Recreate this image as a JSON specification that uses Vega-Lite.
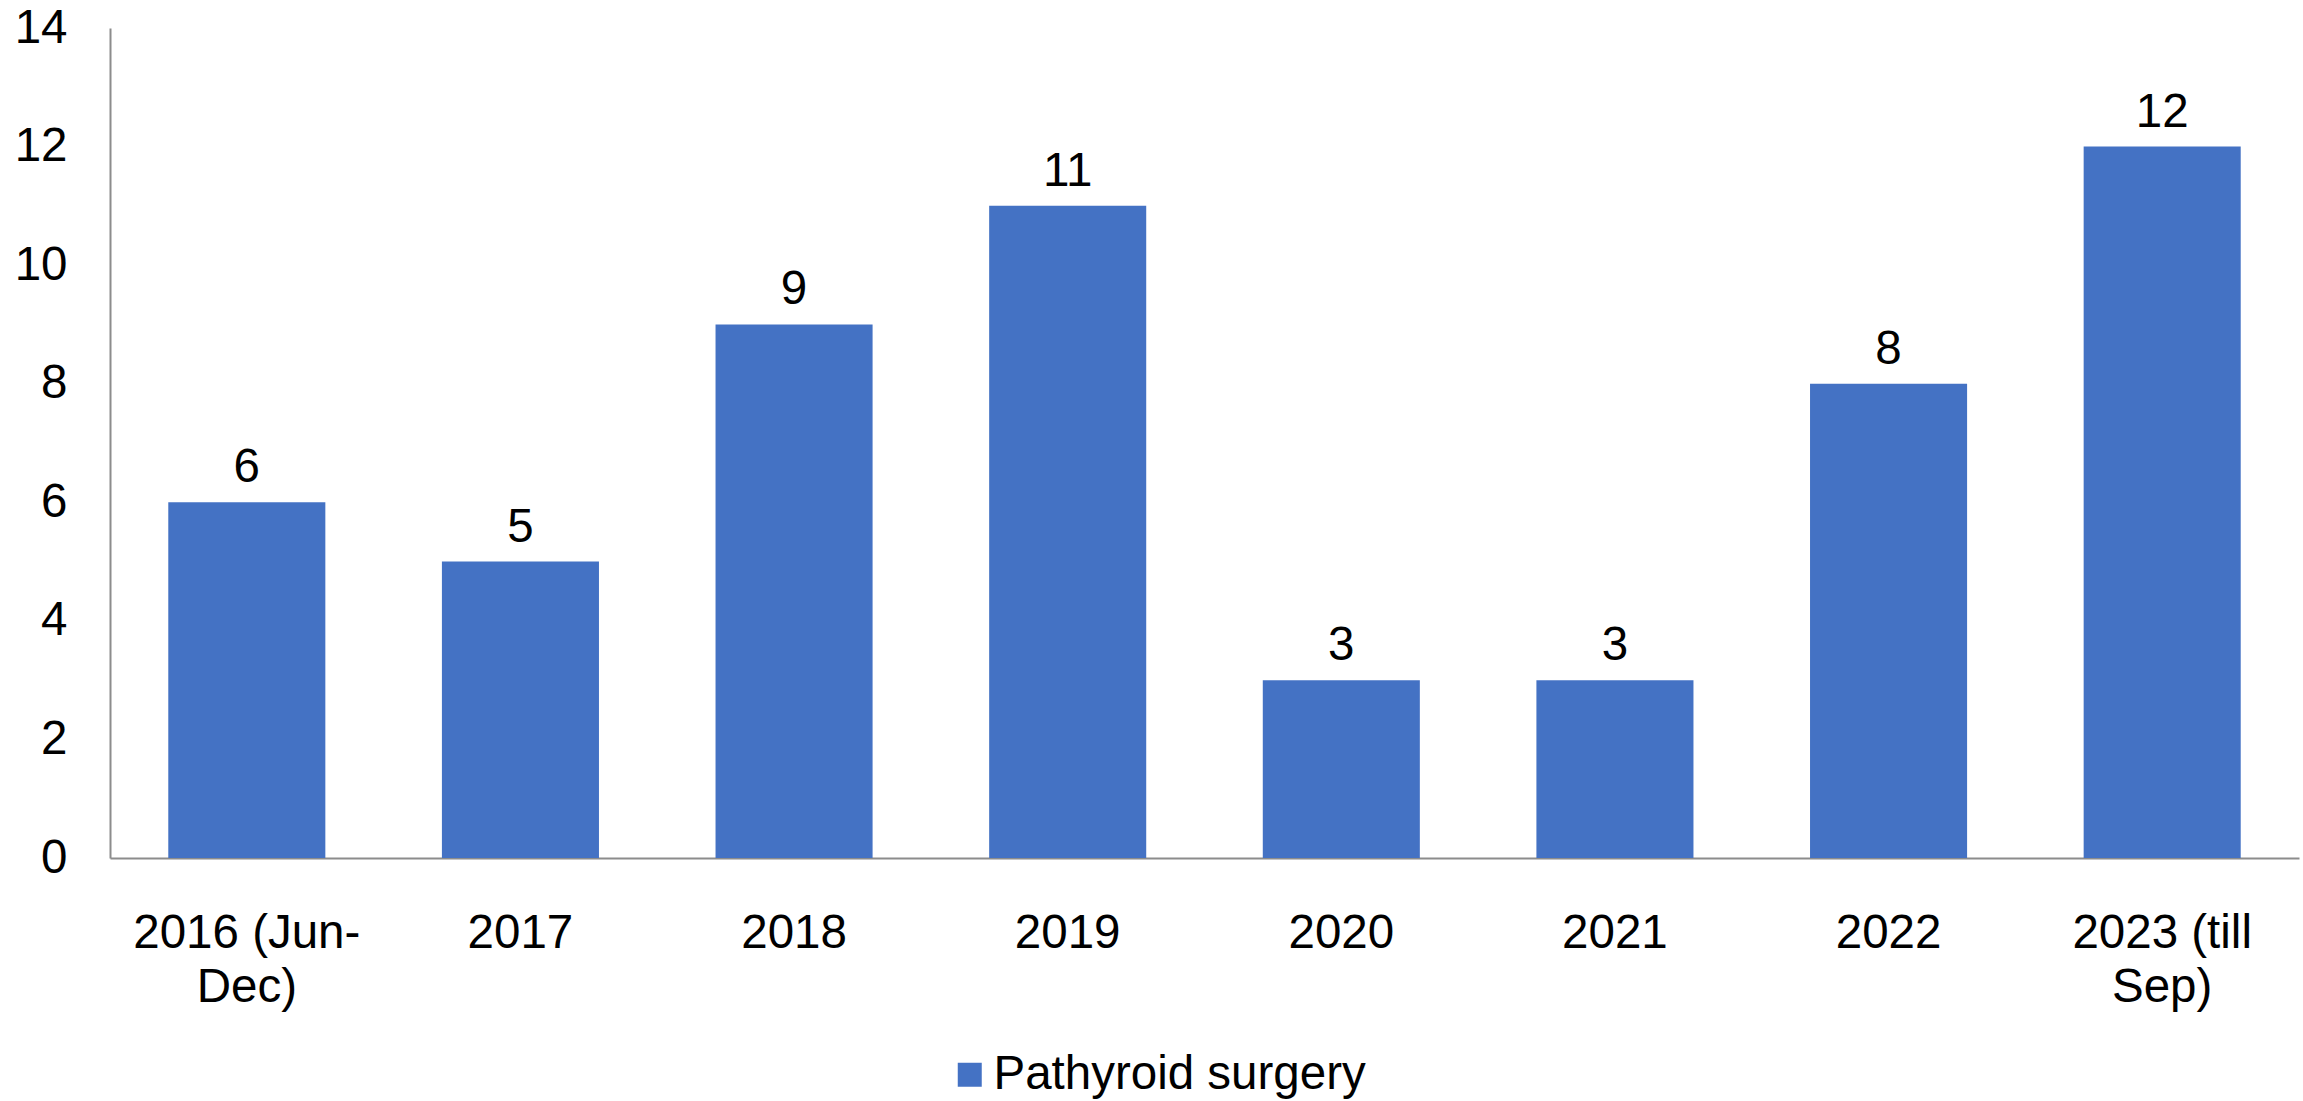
{
  "$schema": "https://vega.github.io/schema/vega-lite/v6.json",
  "width": 2189,
  "height": 830,
  "autosize": {"type": "none"},
  "padding": {"left": 110, "top": 28, "right": 4, "bottom": 243},
  "background": "white",
  "config": {
    "view": {"stroke": null},
    "font": "Liberation Sans"
  },
  "data": {
    "values": [
      {"period": "2016 (Jun-Dec)", "count": 6, "series": "Pathyroid surgery"},
      {"period": "2017", "count": 5, "series": "Pathyroid surgery"},
      {"period": "2018", "count": 9, "series": "Pathyroid surgery"},
      {"period": "2019", "count": 11, "series": "Pathyroid surgery"},
      {"period": "2020", "count": 3, "series": "Pathyroid surgery"},
      {"period": "2021", "count": 3, "series": "Pathyroid surgery"},
      {"period": "2022", "count": 8, "series": "Pathyroid surgery"},
      {"period": "2023 (till Sep)", "count": 12, "series": "Pathyroid surgery"}
    ]
  },
  "encoding": {
    "x": {
      "field": "period",
      "type": "nominal",
      "sort": null,
      "title": null,
      "scale": {"paddingInner": 0.426, "paddingOuter": 0.213},
      "axis": {
        "labelAngle": 0,
        "labelFont": "Liberation Sans",
        "labelFontSize": 47.5,
        "labelColor": "#000000",
        "labelLineHeight": 54,
        "labelPadding": 51,
        "labelLimit": 1000,
        "ticks": false,
        "tickSize": 0,
        "domainColor": "#8c8c8c",
        "domainWidth": 2,
        "grid": false,
        "labelExpr": "datum.label == '2016 (Jun-Dec)' ? ['2016 (Jun-', 'Dec)'] : datum.label == '2023 (till Sep)' ? ['2023 (till', 'Sep)'] : datum.label"
      }
    },
    "y": {
      "field": "count",
      "type": "quantitative",
      "title": null,
      "scale": {"domain": [0, 14], "nice": false},
      "axis": {
        "values": [0, 2, 4, 6, 8, 10, 12, 14],
        "labelFont": "Liberation Sans",
        "labelFontSize": 47.5,
        "labelColor": "#000000",
        "labelPadding": 43,
        "ticks": false,
        "tickSize": 0,
        "domainColor": "#8c8c8c",
        "domainWidth": 2,
        "grid": false
      }
    }
  },
  "layer": [
    {
      "mark": {"type": "bar"},
      "encoding": {
        "color": {
          "field": "series",
          "type": "nominal",
          "scale": {"range": ["#4472C4"]},
          "legend": {
            "title": null,
            "orient": "none",
            "legendX": 836,
            "legendY": 1023,
            "padding": 0,
            "symbolType": "square",
            "symbolSize": 576,
            "symbolStrokeWidth": 0,
            "labelFont": "Liberation Sans",
            "labelFontSize": 47.5,
            "labelColor": "#000000",
            "labelOffset": 0,
            "labelLimit": 1000
          }
        }
      }
    },
    {
      "mark": {"type": "text", "baseline": "alphabetic", "dy": -20, "fontSize": 47.5, "font": "Liberation Sans", "color": "#000000"},
      "encoding": {"text": {"field": "count", "type": "quantitative"}}
    }
  ]
}
